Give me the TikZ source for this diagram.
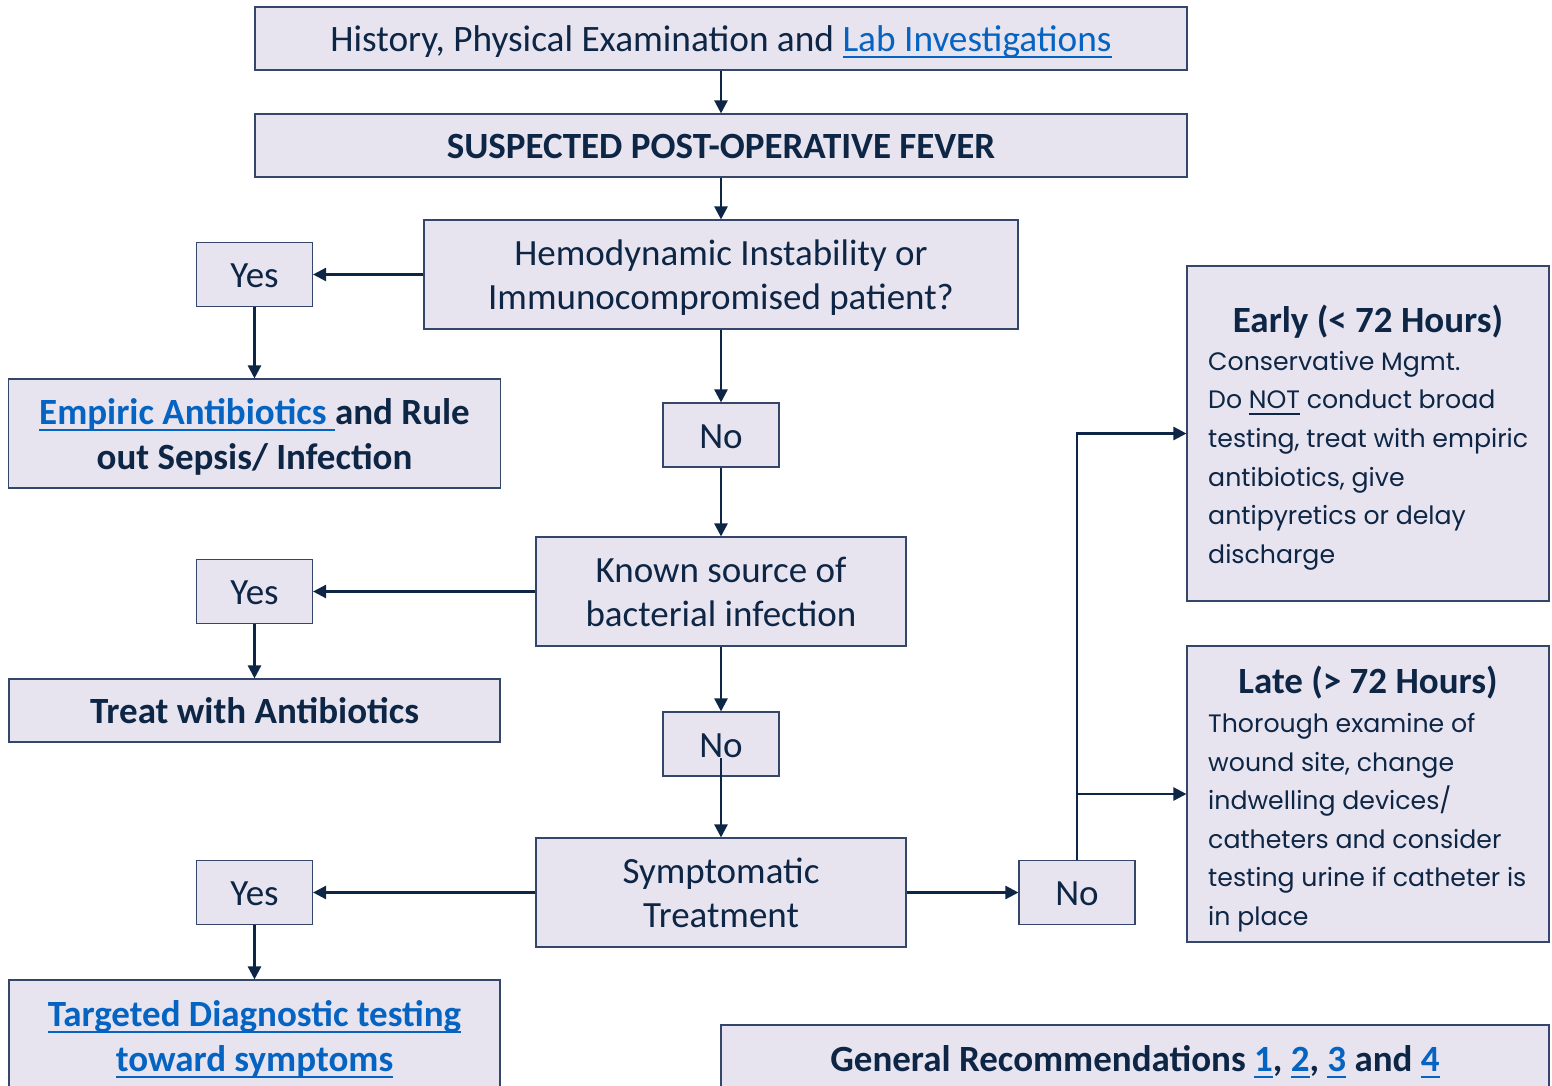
\documentclass[tikz,border=0pt]{standalone}
\usepackage{fontspec}
\setmainfont{Carlito}
\newfontfamily\twfont{Poppins}
\usetikzlibrary{arrows.meta,calc}
\definecolor{boxfill}{HTML}{E7E4EF}
\definecolor{boxline}{HTML}{34466A}
\definecolor{ink}{HTML}{0E2645}
\definecolor{linkc}{HTML}{0563C1}
\newcommand{\uln}[1]{\leavevmode\setbox0\hbox{#1}\dp0=0pt\vtop{\box0\kern4.2pt\hrule height2.2pt}}
\newcommand{\lnk}[1]{\textcolor{linkc}{\uln{#1}}}
\begin{document}
\begin{tikzpicture}[x=1pt,y=-1pt,
  box/.style={draw=boxline, line width=1.1pt, fill=boxfill, text=ink, inner sep=0pt, align=center},
  txt/.style={text=ink, inner sep=0pt},
  reg/.style={font=\fontsize{37}{44}\selectfont},
  bld/.style={font=\bfseries\fontsize{37}{45}\selectfont},
  one/.style={text height=32pt, text depth=5.4pt},
  two/.style={text height=76pt, text depth=5.4pt},
  twob/.style={text height=77pt, text depth=5.4pt},
  body/.style={font=\twfont\fontsize{25.2}{38.6}\selectfont},
  arr/.style={draw=ink, line width=2.4pt, -{Triangle[length=13pt,width=13pt]}}]
\useasboundingbox (0,0) rectangle (1552,1085);
\clip (0,0) rectangle (1552,1085);
% main column
\node[box, one, minimum width=932, minimum height=63, font=\fontsize{37.3}{44}\selectfont] (top) at (721,38.5)
  {History, Physical Examination and \lnk{Lab Investigations}};
\node[box, one, minimum width=932, minimum height=63, font=\bfseries\fontsize{37}{44}\selectfont] (susp) at (721,145.5)
  {SUSPECTED POST-OPERATIVE FEVER};
\node[box, reg, two, minimum width=594, minimum height=109] (hemo) at (721,274.5)
  {Hemodynamic Instability or\\Immunocompromised patient?};
\node[box, reg, one, minimum width=116, minimum height=64] (yes1) at (254.5,274.5)
  {Yes};
\node[box, bld, twob, minimum width=492, minimum height=109] (emp) at (254.5,433.5)
  {\lnk{Empiric Antibiotics }and Rule\\out Sepsis/ Infection};
\node[box, reg, one, minimum width=116, minimum height=64] (no1) at (721,435)
  {No};
\node[box, reg, two, minimum width=370, minimum height=109] (known) at (721,591.5)
  {Known source of\\bacterial infection};
\node[box, reg, one, minimum width=116, minimum height=64] (yes2) at (254.5,591.5)
  {Yes};
\node[box, bld, one, minimum width=491, minimum height=63] (treat) at (254.5,710.5)
  {Treat with Antibiotics};
\node[box, reg, one, minimum width=116, minimum height=64] (no2) at (721,744)
  {No};
\node[box, reg, two, minimum width=370, minimum height=109] (symp) at (721,892.5)
  {Symptomatic\\Treatment};
\node[box, reg, one, minimum width=116, minimum height=64] (yes3) at (254.5,892.5)
  {Yes};
\node[box, bld, twob, minimum width=491, minimum height=112] (targ) at (254.5,1036)
  {\lnk{Targeted Diagnostic testing}\\\lnk{toward symptoms}};
\node[box, reg, one, minimum width=116, minimum height=64] (no3) at (1077,892.5)
  {No};
% right boxes
\node[box, minimum width=362, minimum height=335] (early) at (1368,433.5) {};
\node[txt, font=\bfseries\fontsize{37}{40}\selectfont, anchor=base] (earlyT) at (1368,332) {Early (< 72 Hours)};
\node[txt, body, align=left, anchor=north west] (earlyB) at (1208,351)
  {Conservative Mgmt.\\Do \uln{NOT} conduct broad\\testing, treat with empiric\\antibiotics, give\\antipyretics or delay\\discharge};
\node[box, minimum width=362, minimum height=296] (late) at (1368,794) {};
\node[txt, font=\bfseries\fontsize{37}{40}\selectfont, anchor=base] (lateT) at (1368,693) {Late (> 72 Hours)};
\node[txt, body, align=left, anchor=north west] (lateB) at (1208,713)
  {Thorough examine of\\wound site, change\\indwelling devices/\\catheters and consider\\testing urine if catheter is\\in place};
\node[box, one, minimum width=828, minimum height=66, font=\bfseries\fontsize{37}{44}\selectfont] (gen) at (1135,1058)
  {General Recommendations \lnk{1}, \lnk{2}, \lnk{3} and \lnk{4}};
% connectors
\draw[arr] (top) -- (susp);
\draw[arr] (susp) -- (hemo);
\draw[arr] (hemo.west) -- (yes1.east);
\draw[arr] (yes1) -- (emp);
\draw[arr] (hemo) -- (no1);
\draw[arr] (no1) -- (known);
\draw[arr] (known.west) -- (yes2.east);
\draw[arr] (yes2) -- (treat);
\draw[arr] (known) -- (no2);
\draw[arr] ($(no2.center)+(0,14)$) -- (symp.north);
\draw[arr] (symp.west) -- (yes3.east);
\draw[arr] (yes3) -- (targ);
\draw[arr] (symp.east) -- (no3.west);
\draw[arr] (no3.north) |- (early.west);
\draw[arr] (no3.north) |- (late.west);
\end{tikzpicture}
\end{document}
